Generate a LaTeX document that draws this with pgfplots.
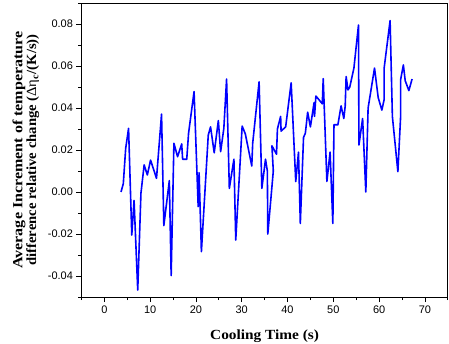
\documentclass[border=0pt]{standalone}
\usepackage{fontspec}
\setmainfont{Liberation Serif}
\newfontfamily\sansf{Liberation Sans}
\usepackage{graphicx}
\usepackage{pgfplots}
\pgfplotsset{compat=1.18}

\begin{document}
\begin{tikzpicture}
\begin{axis}[
  width=366.4bp, height=294bp, scale only axis,
  xmin=-5, xmax=75, ymin=-0.05, ymax=0.09,
  axis line style={line width=0.9bp, black},
  xtick={0,10,...,70},
  ytick={-0.04,-0.02,0,0.02,0.04,0.06,0.08},
  minor xtick={-5,5,15,25,35,45,55,65,75},
  minor ytick={-0.05,-0.03,-0.01,0.01,0.03,0.05,0.07,0.09},
  tick align=outside,
  xtick pos=left, ytick pos=left,
  major tick length=5bp, minor tick length=3bp,
  every tick/.style={black, line width=0.8bp},
  tick label style={font=\sansf\fontsize{11}{13}\selectfont},
  /pgf/number format/assume math mode=true,
  scaled y ticks=false,
  yticklabel style={/pgf/number format/fixed, /pgf/number format/fixed zerofill, /pgf/number format/precision=2},
  xlabel={Cooling Time (s)},
  xlabel style={font=\bfseries\fontsize{14}{16}\selectfont, at={(axis description cs:0.5,-0.143)}, anchor=base, xscale=1.1},
  ylabel={\scalebox{1.15}[1]{Average Increment of temperature}\\ \scalebox{1.05}[1]{difference relative change ({\mdseries Δη}\textsubscript{c}/(K/s))}},
  ylabel style={font=\bfseries\fontsize{14}{14}\selectfont, align=center, at={(axis description cs:-0.1144,0.5)}, anchor=south, inner sep=0pt},
]
\addplot[color={rgb,255:red,0;green,0;blue,255}, line width=1.6bp, line join=round] coordinates {
(3.65,0.000) (4.15,0.004) (4.67,0.0208) (5.3,0.0303) (6.0,-0.0205) (6.5,-0.004)
(7.3,-0.0467) (8.0,-0.0006) (8.7,0.0129) (9.4,0.0081) (10.1,0.0152) (11.4,0.0065)
(12.5,0.0371) (13.0,-0.016) (14.2,0.0054) (14.6,-0.0398) (15.2,0.0232) (16.0,0.0168)
(16.9,0.0229) (17.1,0.0156) (18.0,0.0156) (18.4,0.028) (19.6,0.0478) (20.5,-0.007)
(20.7,0.0092) (21.2,-0.0284) (22.7,0.0271) (23.2,0.031) (24.0,0.0187) (24.9,0.034)
(25.4,0.0192) (26.1,0.0303) (26.7,0.0538) (27.3,0.0017) (28.3,0.0156) (28.7,-0.0229)
(30.1,0.0314) (30.8,0.0276) (32.2,0.0124) (32.4,0.0232) (33.8,0.0525) (34.4,0.0017)
(35.2,0.0156) (35.6,0.0100) (35.7,-0.020) (36.9,0.0100) (36.6,0.022) (37.6,0.018)
(37.8,0.030) (38.5,0.036) (38.6,0.029) (39.6,0.031) (40.8,0.052) (41.8,0.005)
(42.4,0.019) (42.8,-0.015) (43.5,0.026) (43.9,0.028) (44.4,0.038) (45.0,0.031)
(45.8,0.0425) (45.9,0.036) (46.2,0.0457) (47.6,0.042) (47.8,0.054) (48.6,0.005)
(49.3,0.019) (49.9,-0.015) (50.15,0.032) (51.0,0.032) (51.7,0.041) (52.3,0.035)
(52.6,0.041) (52.8,0.055) (53.2,0.0486) (53.6,0.050) (54.5,0.059) (55.5,0.0795)
(55.6,0.0224) (56.4,0.035) (57.1,0.000) (57.6,0.040) (59.0,0.059) (59.8,0.045)
(60.6,0.039) (61.1,0.044) (61.1,0.059) (62.4,0.0816) (62.9,0.036) (64.1,0.0097)
(64.7,0.036) (64.7,0.0535) (65.3,0.0605) (65.7,0.053) (66.5,0.0483) (67.2,0.0538)
};
\end{axis}
\pgfresetboundingbox
\useasboundingbox (-81.4bp,-47bp) rectangle (367.6bp,297bp);
\end{tikzpicture}
\end{document}
